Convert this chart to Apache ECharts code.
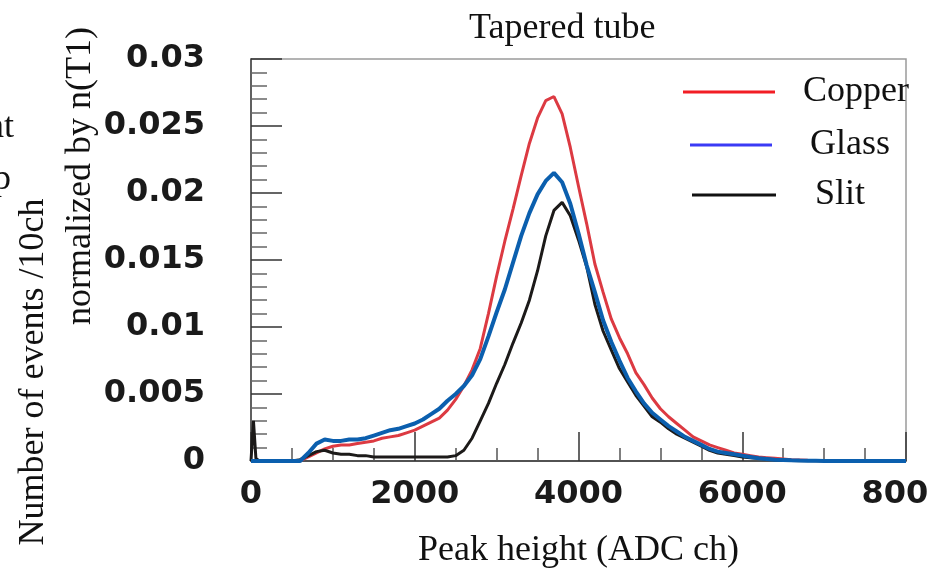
<!DOCTYPE html>
<html>
<head>
<meta charset="utf-8">
<title>Tapered tube</title>
<script src="https://cdn.jsdelivr.net/npm/echarts@6/dist/echarts.min.js"></script>
<style>
  html, body { margin: 0; padding: 0; background: #fff; }
  #chart { width: 927px; height: 575px; }
</style>
</head>
<body>
<div id="chart"></div>
<script>
// ADC channel positions
const adc = [
  0, 30, 60, 100, 300, 500,
  600, 700, 800, 900, 1000, 1100, 1200, 1300, 1400, 1500,
  1600, 1700, 1800, 1900, 2000, 2100, 2200, 2300, 2400, 2500,
  2600, 2700, 2800, 2900, 3000, 3100, 3200, 3300, 3400, 3500,
  3600, 3700, 3800, 3900, 4000, 4100, 4200, 4300, 4400, 4500,
  4600, 4700, 4800, 4900, 5000, 5100, 5200, 5300, 5400, 5500,
  5600, 5700, 5800, 5900, 6000, 6100, 6200, 6300, 6400, 6500,
  6600, 6700, 6800, 6900, 7000,
  7500, 8000
]

const copper = [
  0, 0, 0, 0, 0, 0,
  0, 0.0003, 0.0006, 0.0009, 0.0011, 0.0012, 0.0012, 0.0013, 0.0014, 0.0015,
  0.0017, 0.0018, 0.0019, 0.0021, 0.0023, 0.0026, 0.0029, 0.0032, 0.0038, 0.0046,
  0.0056, 0.0068, 0.0084, 0.0110, 0.0138, 0.0164, 0.0188, 0.0213, 0.0237, 0.0256,
  0.0269, 0.0272, 0.0259, 0.0234, 0.0205, 0.0177, 0.0147, 0.0126, 0.0106, 0.0092,
  0.0080, 0.0066, 0.0057, 0.0047, 0.0039, 0.0033, 0.0028, 0.0023, 0.0018, 0.0015,
  0.0012, 0.0010, 0.0008, 0.0006, 0.0005, 0.0004, 0.0003, 0.00025, 0.0002, 0.00015,
  0.0001, 0.00008, 0.00005, 0.00004, 0.00003,
  0, 0
]

const glass = [
  0, 0, 0, 0, 0, 0,
  0, 0.0006, 0.0013, 0.0016, 0.0015, 0.0015, 0.0016, 0.0016, 0.0017, 0.0019,
  0.0021, 0.0023, 0.0024, 0.0026, 0.0028, 0.0031, 0.0035, 0.0039, 0.0045, 0.0050,
  0.0056, 0.0064, 0.0076, 0.0093, 0.0111, 0.0128, 0.0148, 0.0168, 0.0185, 0.0199,
  0.0209, 0.0215, 0.0208, 0.0192, 0.0170, 0.0146, 0.0126, 0.0105, 0.0089, 0.0075,
  0.0062, 0.0052, 0.0043, 0.0036, 0.0031, 0.0026, 0.0022, 0.0018, 0.0015, 0.0012,
  0.0009, 0.0007, 0.0006, 0.0005, 0.0004, 0.0003, 0.0002, 0.00015, 0.0001, 0.00008,
  0.00005, 0.00003, 0.00002, 0.00001, 0,
  0, 0
]

const slit = [
  0, 0.003, 0.0002, 0, 0, 0,
  0.0001, 0.0004, 0.0007, 0.0008, 0.0006, 0.0005, 0.0005, 0.0004, 0.0004, 0.0003,
  0.0003, 0.0003, 0.0003, 0.0003, 0.0003, 0.0003, 0.0003, 0.0003, 0.0003, 0.0004,
  0.0008, 0.0017, 0.0030, 0.0043, 0.0058, 0.0072, 0.0088, 0.0103, 0.0120, 0.0142,
  0.0168, 0.0187, 0.0193, 0.0183, 0.0165, 0.0145, 0.0117, 0.0097, 0.0083, 0.0069,
  0.0059, 0.0049, 0.0041, 0.0033, 0.0029, 0.0024, 0.0020, 0.0017, 0.0014, 0.0011,
  0.0008, 0.0006, 0.0005, 0.0004, 0.0003, 0.00025, 0.0002, 0.00015, 0.0001, 0.00007,
  0.00004, 0.00002, 0.00001, 0, 0,
  0, 0
]

const yTickLabels = ['0', '0.005', '0.01', '0.015', '0.02', '0.025', '0.03']
const xTickLabels = ['0', '2000', '4000', '6000', '8000']

const toPairs = vals => adc.map((x, i) => [x, vals[i]])

const serif = '"Liberation Serif", "Times New Roman", serif'
const bold = '"DejaVu Sans", sans-serif'

// one legend per entry, the picture places them unevenly
const legendEntry = (name, color, left, top, width, pad) => ({
  data: [{ name: name, icon: 'rect', itemStyle: { color: color } }],
  left: left,
  top: top,
  padding: 0,
  itemWidth: width,
  itemHeight: 3,
  selectedMode: false,
  textStyle: {
    fontFamily: serif,
    fontSize: 36,
    color: '#111',
    lineHeight: 40,
    padding: [pad[1], 0, 0, pad[0]]
  }
})

const chart = echarts.init(document.getElementById('chart'))

const option = {
  animation: false,
  backgroundColor: '#fff',
  title: {
    text: 'Tapered tube',
    left: 464,
    top: 6,
    textStyle: {
      fontFamily: serif,
      fontWeight: 'normal',
      fontSize: 36,
      color: '#111'
    }
  },
  legend: [
    legendEntry('Copper', '#f21d24', 683, 72, 92, [23, 0]),
    legendEntry('Glass', '#3a3af5', 690, 121, 82, [33, 8]),
    legendEntry('Slit', '#111', 692, 170, 84, [34, 10])
  ],
  grid: {
    left: 251,
    right: 21,
    top: 59,
    bottom: 114,
    outerBoundsMode: 'none',
    show: true,
    borderColor: '#9a9a9a',
    borderWidth: 1.5
  },
  xAxis: {
    type: 'value',
    min: 0,
    max: 8000,
    interval: 2000,
    name: 'Peak height (ADC ch)',
    nameLocation: 'middle',
    nameGap: 72,
    nameTextStyle: { fontFamily: serif, fontSize: 36, color: '#111' },
    axisLine: { lineStyle: { color: '#333', width: 1.5 } },
    axisTick: { inside: true, length: 29, lineStyle: { color: '#333', width: 1.5 } },
    minorTick: { show: true, splitNumber: 4, length: 13, lineStyle: { color: '#555', width: 1.5 } },
    splitLine: { show: false },
    axisLabel: {
      margin: 18,
      fontFamily: bold,
      fontWeight: 'bold',
      fontSize: 32,
      color: '#1a1a1a',
      formatter: v => xTickLabels[Math.round(v / 2000)]
    }
  },
  yAxis: {
    type: 'value',
    min: 0,
    max: 0.03,
    interval: 0.005,
    axisLine: { show: true, lineStyle: { color: '#444', width: 1.5 } },
    axisTick: { inside: true, length: 31, lineStyle: { color: '#333', width: 1.5 } },
    minorTick: { show: true, splitNumber: 5, length: 16, lineStyle: { color: '#666', width: 1.5 } },
    splitLine: { show: false },
    axisLabel: {
      margin: 46,
      fontFamily: bold,
      fontWeight: 'bold',
      fontSize: 32,
      color: '#1a1a1a',
      formatter: v => yTickLabels[Math.round(v / 0.005)]
    }
  },
  graphic: [
    {
      type: 'text',
      x: 34,
      y: 372,
      rotation: Math.PI / 2,
      style: {
        text: 'Number of events /10ch',
        font: '36px ' + serif,
        fill: '#111',
        textAlign: 'center',
        textVerticalAlign: 'middle'
      }
    },
    {
      type: 'text',
      x: 81,
      y: 176,
      rotation: Math.PI / 2,
      style: {
        text: 'normalized by n(T1)',
        font: '36px ' + serif,
        fill: '#111',
        textAlign: 'center',
        textVerticalAlign: 'middle'
      }
    },
    // leftovers of a label cut off by the crop
    {
      type: 'text',
      x: 14,
      y: 128,
      style: { text: 'at', font: '36px ' + serif, fill: '#111', textAlign: 'right', textVerticalAlign: 'middle' }
    },
    {
      type: 'text',
      x: 11,
      y: 180,
      style: { text: 'p', font: '36px ' + serif, fill: '#111', textAlign: 'right', textVerticalAlign: 'middle' }
    }
  ],
  series: [
    {
      name: 'Copper',
      type: 'line',
      showSymbol: false,
      data: toPairs(copper),
      lineStyle: { color: '#dc3a42', width: 3 },
      itemStyle: { color: '#dc3a42' },
      z: 2
    },
    {
      name: 'Slit',
      type: 'line',
      showSymbol: false,
      data: toPairs(slit),
      lineStyle: { color: '#1c1a19', width: 3 },
      itemStyle: { color: '#1c1a19' },
      z: 3
    },
    {
      name: 'Glass',
      type: 'line',
      showSymbol: false,
      data: toPairs(glass),
      lineStyle: { color: '#0b5fae', width: 4 },
      itemStyle: { color: '#0b5fae' },
      z: 4
    }
  ]
}

chart.setOption(option)
</script>
</body>
</html>
